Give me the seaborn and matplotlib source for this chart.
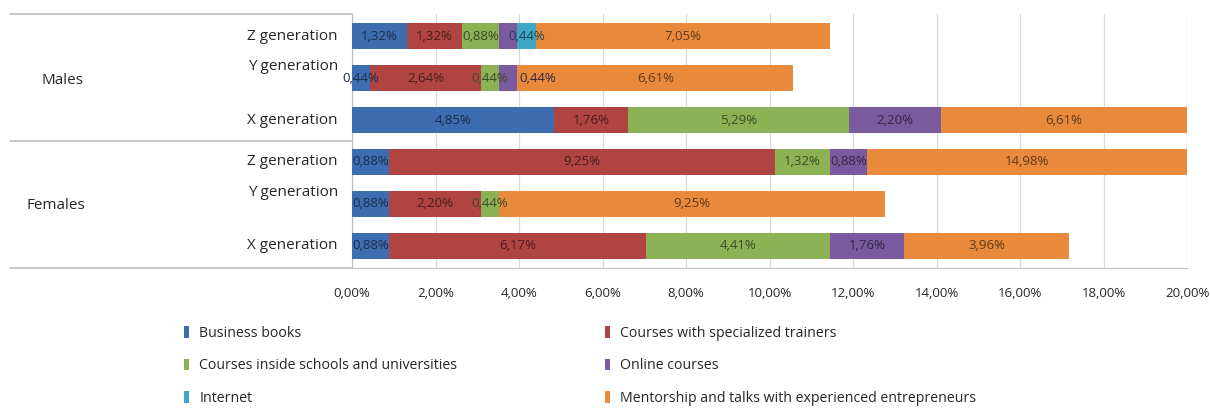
import numpy as np
import pandas as pd
import matplotlib
matplotlib.use("Agg")
import matplotlib.pyplot as plt
import matplotlib.colors as mcolors
from matplotlib.patches import Patch
import seaborn as sns

sns.set_style("white")
plt.rcParams['font.family'] = ['Open Sans', 'DejaVu Sans']

# rows, top to bottom
groups = ['Males', 'Males', 'Males', 'Females', 'Females', 'Females']
generations = ['Z generation', 'Y generation', 'X generation',
               'Z generation', 'Y generation', 'X generation']
row_ids = ['M-Z', 'M-Y', 'M-X', 'F-Z', 'F-Y', 'F-X']

business_books = [1.32, 0.44, 4.85, 0.88, 0.88, 0.88]
specialized_trainers = [1.32, 2.64, 1.76, 9.25, 2.20, 6.17]
schools_universities = [0.88, 0.44, 5.29, 1.32, 0.44, 4.41]
online_courses = [0.44, 0.44, 2.20, 0.88, 0.00, 1.76]
internet = [0.44, 0.00, 0.00, 0.00, 0.00, 0.00]
mentorship = [7.05, 6.61, 6.61, 14.98, 9.25, 3.96]

series_names = ['Business books', 'Courses with specialized trainers',
                'Courses inside schools and universities', 'Online courses',
                'Internet', 'Mentorship and talks with experienced entrepreneurs']
series_values = [business_books, specialized_trainers, schools_universities,
                 online_courses, internet, mentorship]
colors = ['#3D6DB0', '#B04443', '#8DB255', '#7A5A9F', '#3FA6C5', '#E8893C']
# purple label hidden on males Z (as in the source chart)
show_label = [[True] * 6, [True] * 6, [True] * 6,
              [False, True, True, True, True, True],
              [True] * 6, [True] * 6]

xticks = np.arange(0, 21, 2)
xmax = 20

df = pd.DataFrame({'row': row_ids})
for name, vals in zip(series_names, series_values):
    df[name] = vals
cum = df[series_names].cumsum(axis=1)

fig = plt.figure(figsize=(12.1, 4.08), dpi=100)
ax = fig.add_axes([352 / 1210, 1 - 268 / 408, (1187 - 352) / 1210, 254 / 408])

# stacked bars via cumulative sums, drawn back to front
for k in range(len(series_names) - 1, -1, -1):
    sns.barplot(x=cum[series_names[k]], y=df['row'], color=colors[k],
                width=0.62, orient='h', errorbar=None, ax=ax, zorder=3,
                saturation=1, linewidth=0, edgecolor='none')

for k, name in enumerate(series_names):
    dark = np.array(mcolors.to_rgb(colors[k])) * 0.42
    for i in range(len(row_ids)):
        v = df[name][i]
        if v <= 0 or not show_label[k][i]:
            continue
        start = cum[name][i] - v
        end = min(cum[name][i], xmax)
        xpos, ha = (start + end) / 2, 'center'
        # the purple label of males Y sits just right of its small segment
        if k == 3 and i == 1:
            xpos, ha = end + 0.05, 'left'
        ax.text(xpos, i, f"{v:.2f}%".replace('.', ','),
                ha=ha, va='center', fontsize=9.5, color=dark, zorder=5)

ax.set_xlim(0, xmax)
ax.set_ylim(5.53, -0.53)
ax.set_xticks(xticks)
ax.set_xticklabels([f"{t:.2f}%".replace('.', ',') for t in xticks], fontsize=9.5)
ax.tick_params(axis='x', length=0, pad=14)
ax.set_yticks([])
ax.set_xlabel('')
ax.set_ylabel('')
ax.grid(axis='x', color='#D9D9D9', linewidth=0.9, zorder=0)
for s in ['top', 'right']:
    ax.spines[s].set_visible(False)
ax.spines['left'].set_color('#BFBFBF')
ax.spines['bottom'].set_color('#BFBFBF')

# two-level category axis
gen_offset = {'Z generation': 0.0, 'Y generation': -0.27, 'X generation': 0.0}
for i, (g, gen) in enumerate(zip(groups, generations)):
    ax.text(-0.017, i + gen_offset[gen], gen, transform=ax.get_yaxis_transform(),
            ha='right', va='center', fontsize=11, color='#262626')
for g, i0, x0 in [('Males', 0, -0.372), ('Females', 3, -0.39)]:
    ax.text(x0, i0 + 1.05, g, transform=ax.get_yaxis_transform(),
            ha='left', va='center', fontsize=11, color='#262626')
for yb in [-0.53, 2.5, 5.53]:
    ax.plot([-0.41, 0], [yb, yb], transform=ax.get_yaxis_transform(),
            color='#BFBFBF', linewidth=1.2, clip_on=False)

order = [0, 2, 4, 1, 3, 5]
handles = [Patch(facecolor=colors[k], edgecolor='none') for k in order]
labels = [series_names[k] for k in order]
fig.legend(handles, labels, loc='upper left', bbox_to_anchor=(178 / 1210, 1 - 320 / 408),
           ncol=2, frameon=False, fontsize=10.2, handlelength=0.4, handleheight=0.9,
           handletextpad=0.7, labelspacing=1.25, columnspacing=10.4,
           borderaxespad=0)

fig.savefig('out.png', dpi=100)
